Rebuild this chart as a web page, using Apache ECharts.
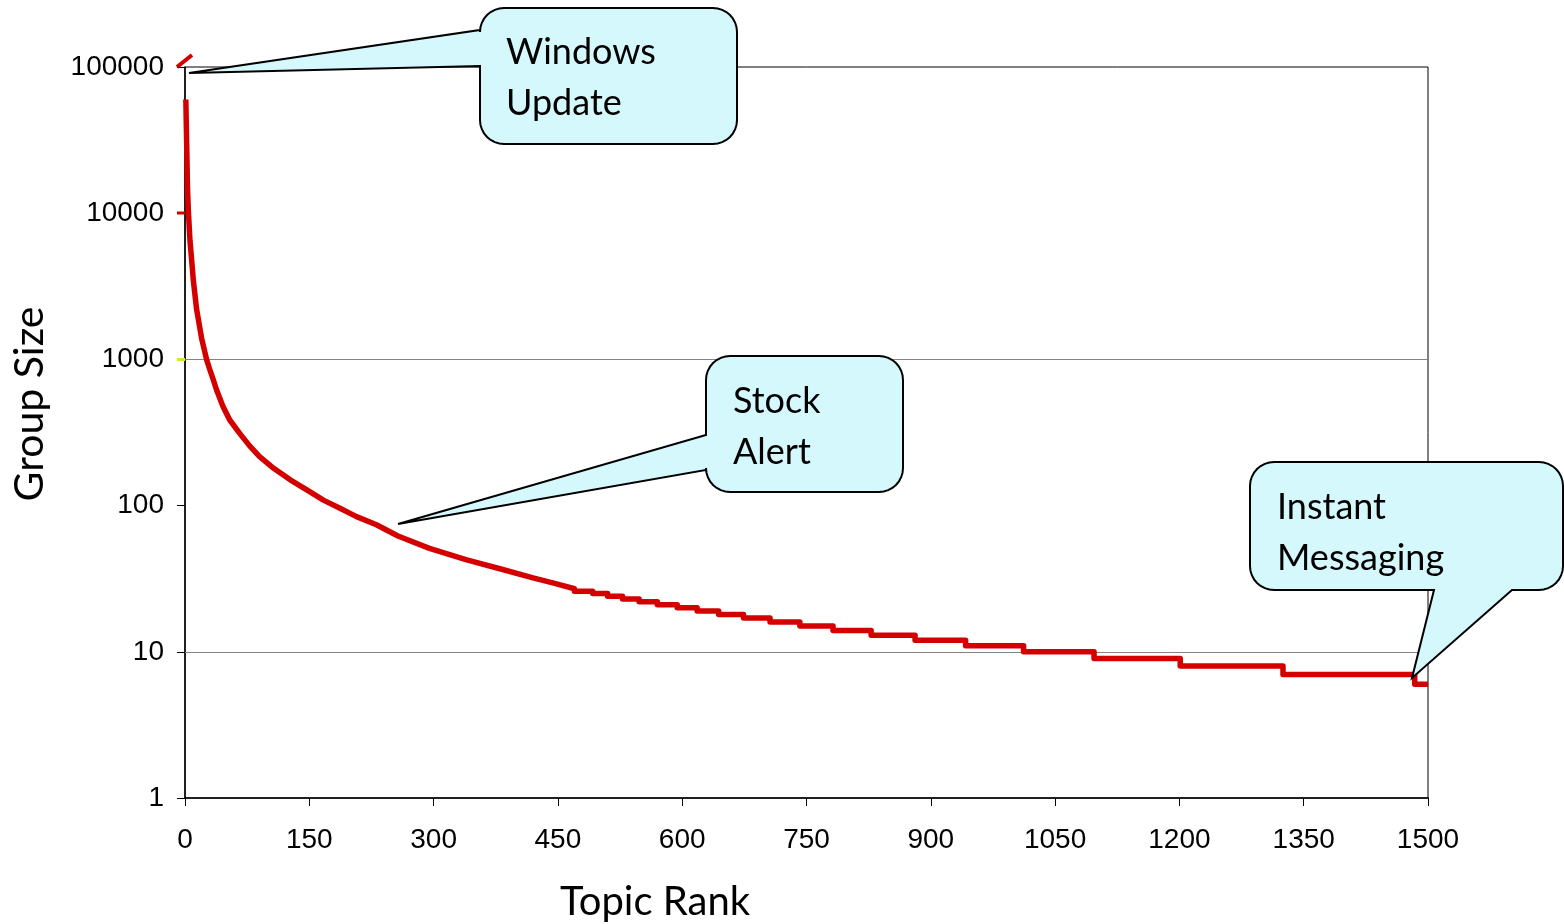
<!DOCTYPE html>
<html>
<head>
<meta charset="utf-8">
<title>Group Size by Topic Rank</title>
<script src="https://cdn.jsdelivr.net/npm/echarts@6/dist/echarts.min.js"></script>
<style>
  html, body { margin: 0; padding: 0; background: #ffffff; }
  #chart { width: 1564px; height: 924px; }
</style>
</head>
<body>
<div id="chart"></div>
<script>
// Head of the distribution: the few very large groups (rank, group size)
const headRanks = [1, 2, 3, 4, 6, 8, 10, 14, 20, 26, 30, 34, 38, 46, 54, 66, 78, 90, 107, 127, 147, 167, 187, 207, 231, 257, 295, 340, 380, 420, 445, 470];
const headSizes = [60000, 30000, 15000, 10500, 6500, 4800, 3500, 2200, 1400, 1000, 850, 730, 620, 475, 385, 312, 256, 216, 180, 150, 128, 109, 96, 84, 74, 62, 51, 42.5, 37, 32, 29.5, 27];

// Long tail: integer group sizes, each held until the given rank
const stepSizes = [26, 25, 24, 23, 22, 21, 20, 19, 18, 17, 16, 15, 14, 13, 12, 11, 10, 9, 8, 7, 6];
const stepEnds  = [492, 510, 528, 548, 570, 594, 618, 644, 674, 706, 742, 782, 828, 881, 942, 1012, 1097, 1201, 1325, 1484, 1500];

// Axis ticks
const xTicks = [0, 150, 300, 450, 600, 750, 900, 1050, 1200, 1350, 1500];
const yTicks = [1, 10, 100, 1000, 10000, 100000];
const gridLevels = [1000, 10];

// Titles and callout texts
const xTitle = 'Topic Rank';
const yTitle = 'Group Size';
const callouts = [
  { lines: ['Windows', 'Update'] },
  { lines: ['Stock', 'Alert'] },
  { lines: ['Instant', 'Messaging'] }
];

// Head as (rank, size) pairs, then flat plateaus joined by vertical drops
const points = headRanks.map((r, i) => [r, headSizes[i]]);
let start = headRanks[headRanks.length - 1];
stepSizes.forEach((s, i) => {
  points.push([start, s]);
  points.push([stepEnds[i], s]);
  start = stepEnds[i];
});

const chart = echarts.init(document.getElementById('chart'), null, { renderer: 'canvas' });

const TICK_FONT = '"Liberation Sans", Arial, sans-serif';
const TITLE_FONT = 'Lato, "Open Sans", sans-serif';
const RED = '#d40000';

// Quarter-circle corner as a run of outline points
function corner(cx, cy, r, a0, a1) {
  const pts = [];
  const n = 8;
  for (let k = 0; k <= n; k++) {
    const a = a0 + (a1 - a0) * k / n;
    pts.push([cx + r * Math.cos(a), cy + r * Math.sin(a)]);
  }
  return pts;
}

// Outline of a rounded box whose pointer leaves the left edge
function leftWedgeBox(b, ya, yb, tip) {
  const { x0, y0, x1, y1, r } = b;
  const P = Math.PI;
  return [].concat(
    corner(x0 + r, y0 + r, r, P, 1.5 * P),
    corner(x1 - r, y0 + r, r, 1.5 * P, 2 * P),
    corner(x1 - r, y1 - r, r, 0, 0.5 * P),
    corner(x0 + r, y1 - r, r, 0.5 * P, P),
    [[x0, yb], tip, [x0, ya]]
  );
}

// Outline of a rounded box whose pointer leaves the bottom edge
function bottomWedgeBox(b, xa, xb, tip) {
  const { x0, y0, x1, y1, r } = b;
  const P = Math.PI;
  return [].concat(
    corner(x0 + r, y0 + r, r, P, 1.5 * P),
    corner(x1 - r, y0 + r, r, 1.5 * P, 2 * P),
    corner(x1 - r, y1 - r, r, 0, 0.5 * P),
    [[xb, y1], tip, [xa, y1]],
    corner(x0 + r, y1 - r, r, 0.5 * P, P)
  );
}

const calloutStyle = { fill: '#d5f8fd', stroke: '#000000', lineWidth: 2 };

const boxWin = { x0: 480, y0: 8, x1: 737, y1: 144, r: 24 };
const boxStock = { x0: 706, y0: 356, x1: 903, y1: 492, r: 24 };
const boxIM = { x0: 1250, y0: 462, x1: 1563, y1: 590, r: 24 };

function textLines(c, x, yFirst, gap) {
  return c.lines.map((t, i) => ({
    type: 'text', z: 101, silent: true,
    x: x, y: yFirst + i * gap,
    style: {
      text: t, fill: '#000000', fontSize: 36, fontFamily: TITLE_FONT,
      verticalAlign: 'middle', align: 'left'
    }
  }));
}

// Small coloured tick accents on the value axis
function accent(x1, y1, x2, y2, color, w) {
  return { type: 'line', z: 50, silent: true, shape: { x1, y1, x2, y2 }, style: { stroke: color, lineWidth: w } };
}

const graphics = [
  { type: 'polygon', z: 100, silent: true, shape: { points: leftWedgeBox(boxWin, 30, 66, [189, 73]) }, style: calloutStyle },
  { type: 'polygon', z: 100, silent: true, shape: { points: leftWedgeBox(boxStock, 435, 470, [398, 524]) }, style: calloutStyle },
  { type: 'polygon', z: 100, silent: true, shape: { points: bottomWedgeBox(boxIM, 1434, 1512, [1412, 678]) }, style: calloutStyle },
  accent(177, 67, 192, 55, RED, 4),
  accent(177, 213, 185, 213, RED, 3),
  accent(177, 359.5, 185, 359.5, '#c6ef2e', 3),
  {
    type: 'text', z: 20, silent: true, x: 655, y: 902,
    style: { text: xTitle, fill: '#000000', fontSize: 40, fontFamily: TITLE_FONT, align: 'center', verticalAlign: 'middle' }
  },
  {
    type: 'text', z: 20, silent: true, x: 30, y: 404, rotation: Math.PI / 2,
    style: { text: yTitle, fill: '#000000', fontSize: 41, fontFamily: TITLE_FONT, align: 'center', verticalAlign: 'middle' }
  }
]
  .concat(textLines(callouts[0], 506, 52, 51))
  .concat(textLines(callouts[1], 733, 401, 51))
  .concat(textLines(callouts[2], 1277, 507, 51));

chart.setOption({
  animation: false,
  backgroundColor: '#ffffff',
  grid: {
    left: 185, right: 136, top: 67, bottom: 126,
    containLabel: false, outerBoundsMode: 'none',
    show: true, borderColor: '#000000', borderWidth: 1, backgroundColor: 'transparent'
  },
  xAxis: {
    type: 'value',
    min: xTicks[0], max: xTicks[xTicks.length - 1], interval: xTicks[1] - xTicks[0],
    axisLine: { show: true, lineStyle: { color: '#000000', width: 1.5 } },
    axisTick: { show: true, length: 8, lineStyle: { color: '#000000', width: 1 } },
    axisLabel: { margin: 28, fontFamily: TICK_FONT, fontSize: 28, color: '#000000', formatter: v => String(v) },
    splitLine: { show: false }
  },
  yAxis: {
    type: 'log', logBase: 10,
    min: yTicks[0], max: yTicks[yTicks.length - 1],
    axisLine: { show: true, lineStyle: { color: '#000000', width: 1.5 } },
    axisTick: { show: true, length: 8, lineStyle: { color: '#000000', width: 1 } },
    axisLabel: { margin: 21, fontFamily: TICK_FONT, fontSize: 28, color: '#000000', formatter: v => String(Math.round(v)) },
    splitLine: { show: false }
  },
  series: [{
    type: 'line',
    data: points,
    showSymbol: false,
    lineStyle: { color: RED, width: 5.5, join: 'round' },
    z: 5,
    markLine: {
      silent: true, symbol: 'none', label: { show: false }, z: 1,
      lineStyle: { color: '#8a8282', type: 'solid', width: 1.2 },
      data: gridLevels.map(v => ({ yAxis: v }))
    }
  }],
  graphic: graphics
});
</script>
</body>
</html>
